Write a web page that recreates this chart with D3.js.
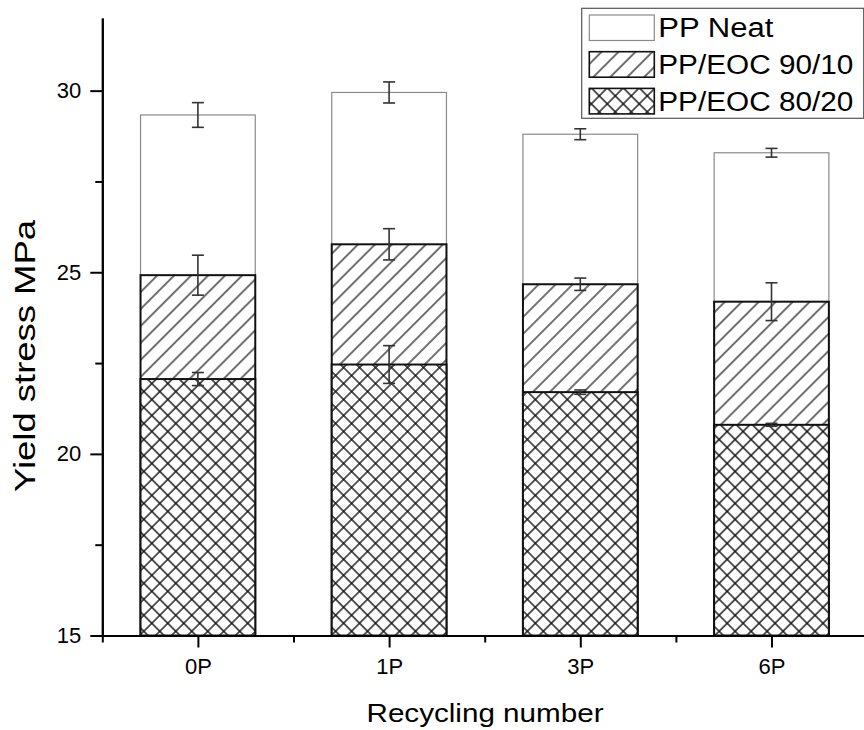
<!DOCTYPE html>
<html>
<head>
<meta charset="utf-8">
<script src="https://cdn.jsdelivr.net/npm/d3@7"></script>
<style>
  html, body { margin: 0; padding: 0; background: #fff; }
  svg { display: block; font-family: "Liberation Sans", Arial, sans-serif; }
</style>
</head>
<body>
<svg id="chart" width="864" height="730"></svg>
<script>
// ---- data ----
const categories = ["0P", "1P", "3P", "6P"];
const seriesNames = ["PP Neat", "PP/EOC 90/10", "PP/EOC 80/20"];
const ppNeat = [29.33, 29.95, 28.80, 28.29];
const ppNeatErr = [0.34, 0.29, 0.15, 0.12];
const eoc9010 = [24.92, 25.77, 24.67, 24.19];
const eoc9010Err = [0.55, 0.43, 0.17, 0.52];
const eoc8020 = [22.06, 22.46, 21.70, 20.80];
const eoc8020Err = [0.18, 0.52, 0.06, 0.04];
const yMajorTicks = [15, 20, 25, 30];
const yMinorTicks = [17.5, 22.5, 27.5];
const xMinorTicks = [0.5, 1.5, 2.5, 3.5, 4.5];

const svg = d3.select("#chart");
svg.append("rect").attr("width", 864).attr("height", 730).attr("fill", "#fff");

const x = d3.scaleLinear().domain([0.5, 4.5]).range([102.3, 867.1]);
const y = d3.scaleLinear().domain([15, 32]).range([635.5, 18]);
const barW = x(1.6) - x(1);

// patterns
const defs = svg.append("defs");
const p1 = defs.append("pattern").attr("id", "diag").attr("patternUnits", "userSpaceOnUse")
  .attr("width", 12).attr("height", 12).attr("patternTransform", "rotate(45)");
p1.append("line").attr("x1", 6).attr("y1", 0).attr("x2", 6).attr("y2", 12)
  .attr("stroke", "#111").attr("stroke-width", 1.2);
const p2 = defs.append("pattern").attr("id", "cross").attr("patternUnits", "userSpaceOnUse")
  .attr("width", 11.3).attr("height", 11.3).attr("patternTransform", "rotate(45)");
p2.append("line").attr("x1", 5.65).attr("y1", 0).attr("x2", 5.65).attr("y2", 11.3)
  .attr("stroke", "#111").attr("stroke-width", 1.4);
p2.append("line").attr("x1", 0).attr("y1", 5.65).attr("x2", 11.3).attr("y2", 5.65)
  .attr("stroke", "#111").attr("stroke-width", 1.4);

const series = [
  { name: seriesNames[0], vals: ppNeat, err: ppNeatErr, fill: "#fff", stroke: "#8a8a8a", sw: 1.2 },
  { name: seriesNames[1], vals: eoc9010, err: eoc9010Err, fill: "url(#diag)", stroke: "#111", sw: 2 },
  { name: seriesNames[2], vals: eoc8020, err: eoc8020Err, fill: "url(#cross)", stroke: "#111", sw: 2 }
];

// bars (overlapping, drawn from baseline)
series.forEach(s => {
  const g = svg.append("g");
  g.selectAll("rect.bg").data(s.vals).join("rect")
    .attr("x", (d, i) => x(i + 1) - barW / 2)
    .attr("y", d => y(d))
    .attr("width", barW)
    .attr("height", d => y(15) - y(d))
    .attr("fill", "#fff");
  g.selectAll("rect.fg").data(s.vals).join("rect")
    .attr("x", (d, i) => x(i + 1) - barW / 2)
    .attr("y", d => y(d))
    .attr("width", barW)
    .attr("height", d => y(15) - y(d))
    .attr("fill", s.fill)
    .attr("stroke", s.stroke)
    .attr("stroke-width", s.sw);
});

// error bars
series.forEach(s => {
  const g = svg.append("g").attr("stroke", "#333").attr("stroke-width", 1.6);
  s.vals.forEach((v, i) => {
    const cx = x(i + 1), e = s.err[i];
    g.append("line").attr("x1", cx).attr("x2", cx).attr("y1", y(v + e)).attr("y2", y(v - e));
    g.append("line").attr("x1", cx - 6).attr("x2", cx + 6).attr("y1", y(v + e)).attr("y2", y(v + e));
    g.append("line").attr("x1", cx - 6).attr("x2", cx + 6).attr("y1", y(v - e)).attr("y2", y(v - e));
  });
});

// axes
svg.append("g").attr("class", "ax").attr("transform", `translate(${x(0.5)},0)`)
  .call(d3.axisLeft(y).tickValues(yMajorTicks).tickSize(12).tickSizeOuter(0).tickPadding(9).tickFormat(d3.format("d")));
svg.append("g").attr("class", "ax").attr("transform", `translate(${x(0.5)},0)`)
  .call(d3.axisLeft(y).tickValues(yMinorTicks).tickSize(7).tickSizeOuter(0).tickFormat(""));
svg.append("g").attr("class", "ax").attr("transform", `translate(0,${y(15)})`)
  .call(d3.axisBottom(x).tickValues([1, 2, 3, 4]).tickSize(12).tickSizeOuter(0).tickPadding(11)
    .tickFormat(d => categories[d - 1]));
svg.append("g").attr("class", "ax").attr("transform", `translate(0,${y(15)})`)
  .call(d3.axisBottom(x).tickValues(xMinorTicks).tickSize(7).tickSizeOuter(0).tickFormat(""));

svg.selectAll(".ax").attr("font-size", null).attr("font-family", null);
svg.selectAll(".domain").attr("stroke", "#000").attr("stroke-width", 2);
svg.selectAll(".tick line").attr("stroke", "#000").attr("stroke-width", 2);
svg.selectAll(".tick text")
  .style("font-size", "22px")
  .style("font-family", "'Liberation Sans', Arial, sans-serif")
  .attr("fill", "#000");

// axis titles
svg.append("text").attr("x", 485).attr("y", 722).attr("text-anchor", "middle")
  .style("font-size", "26px").attr("textLength", 237).attr("lengthAdjust", "spacingAndGlyphs")
  .text("Recycling number");
svg.append("text").attr("transform", "translate(35,356) rotate(-90)").attr("text-anchor", "middle")
  .style("font-size", "29px").attr("textLength", 272).attr("lengthAdjust", "spacingAndGlyphs")
  .text("Yield stress MPa");

// legend
const lg = svg.append("g");
lg.append("rect").attr("x", 581.7).attr("y", 8.3).attr("width", 282).attr("height", 110)
  .attr("fill", "#fff").attr("stroke", "#555").attr("stroke-width", 1.2);
const legendLens = [115, 195, 195];
series.forEach((s, i) => {
  const top = 15 + i * 36.7;
  lg.append("rect").attr("x", 589.3).attr("y", top).attr("width", 65).attr("height", 25.5)
    .attr("fill", "#fff");
  lg.append("rect").attr("x", 589.3).attr("y", top).attr("width", 65).attr("height", 25.5)
    .attr("fill", s.fill).attr("stroke", s.stroke).attr("stroke-width", i === 0 ? 1.2 : 1.6);
  lg.append("text").attr("x", 658.3).attr("y", top + 22.4).style("font-size", "27px")
    .attr("textLength", legendLens[i]).attr("lengthAdjust", "spacingAndGlyphs")
    .text(s.name);
});
</script>
</body>
</html>
